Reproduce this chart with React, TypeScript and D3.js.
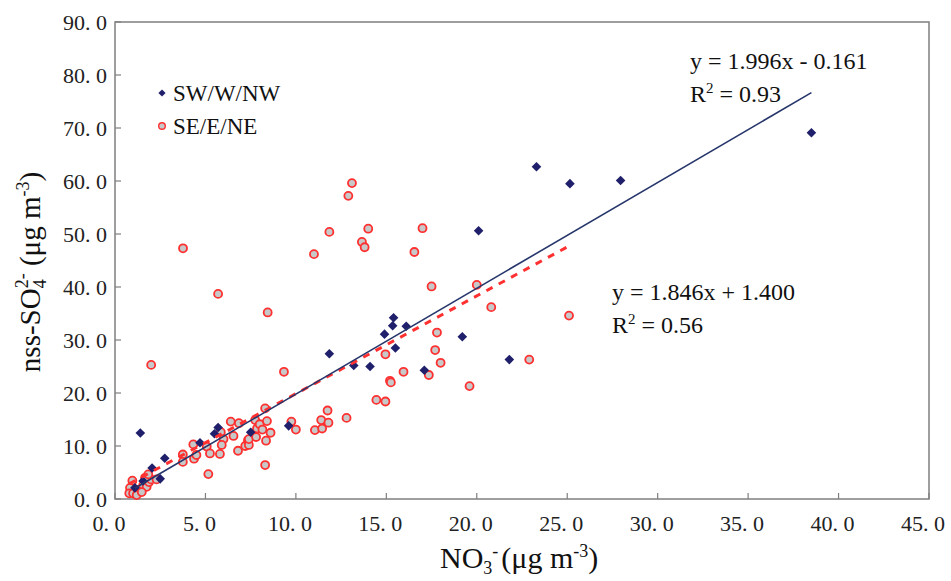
import * as d3 from "d3";

// SW/W/NW wind sector samples [NO3-, nss-SO4 2-]
const swPoints: [number, number][] = [
  [1.1, 2.1], [1.55, 3.4], [1.4, 12.45], [2.05, 5.85], [2.5, 3.8], [2.75, 7.7],
  [4.7, 10.6], [5.5, 12.3], [5.7, 13.5], [7.5, 12.6], [9.6, 13.8], [11.85, 27.4],
  [13.2, 25.2], [14.1, 25.0], [14.9, 31.1], [15.35, 32.7], [15.4, 34.2], [15.5, 28.5],
  [16.1, 32.6], [17.1, 24.3], [19.2, 30.6], [20.1, 50.6], [21.8, 26.3], [23.3, 62.7],
  [25.15, 59.5], [27.95, 60.1], [38.5, 69.1],
];

// SE/E/NE wind sector samples
const sePoints: [number, number][] = [
  [0.96, 3.45], [0.83, 2.1], [0.79, 1.07], [1.0, 1.07], [1.25, 1.7], [1.48, 2.0],
  [1.56, 2.6], [1.75, 2.3], [1.88, 3.2], [1.99, 3.7], [1.66, 4.0], [1.84, 4.65],
  [1.2, 0.75], [1.48, 1.3], [2.3, 3.7],
  [3.75, 8.4], [3.75, 7.0], [4.33, 10.3], [4.37, 7.6], [4.5, 8.3], [5.16, 4.7],
  [5.07, 9.9], [5.25, 8.6], [5.85, 12.6], [6.0, 11.3], [5.9, 10.2], [5.8, 8.5],
  [6.4, 14.6], [6.55, 11.9], [6.8, 9.1], [6.85, 14.3], [7.2, 10.0], [7.35, 11.1],
  [7.4, 10.2], [7.4, 11.3], [7.75, 14.9], [7.85, 13.3], [8.0, 14.1], [8.15, 13.1],
  [8.3, 17.1], [8.4, 14.7], [8.6, 12.5], [7.8, 11.7], [8.35, 11.0], [8.3, 6.4],
  [9.75, 14.6], [10.0, 13.1], [11.05, 13.0], [11.45, 13.3], [11.4, 14.9], [11.8, 14.4],
  [11.75, 16.7], [12.8, 15.3], [14.45, 18.7], [14.95, 18.4], [15.2, 22.3], [15.25, 22.0],
  [9.34, 24.0], [2.0, 25.3], [3.76, 47.3], [5.7, 38.7], [8.44, 35.2], [11.0, 46.2],
  [11.85, 50.4], [12.9, 57.2], [13.1, 59.6], [13.65, 48.5], [13.8, 47.5], [14.0, 51.0],
  [14.95, 27.3], [15.95, 24.0], [16.55, 46.6], [17.0, 51.1], [17.35, 23.4], [17.5, 40.1],
  [17.7, 28.1], [17.8, 31.4], [18.0, 25.7], [19.6, 21.3], [20.0, 40.4], [20.8, 36.2],
  [22.9, 26.3], [25.1, 34.6],
];

const xTicks = [0, 5, 10, 15, 20, 25, 30, 35, 40, 45];
const yTicks = [0, 10, 20, 30, 40, 50, 60, 70, 80, 90];

// fitted lines: slope, intercept, r2
const swFit = [1.996, -0.161, 0.93];
const seFit = [1.846, 1.4, 0.56];

const W = 951;
const H = 581;
const plot = { left: 115, right: 929, top: 22, bottom: 499 };

const NAVY = "#1f1f6b";
const RED = "#ff3030";
const GREY_FILL = "#c8c8c8";
const AXIS = "#7f7f7f";
const SERIF = "'Liberation Serif', 'DejaVu Serif', serif";

const tickFmt = (d: number) => d3.format(".1f")(d).replace(".", ". ");
const diamond = (r: number) => `M0,${-r}L${r},0L0,${r}L${-r},0Z`;

const eqText = (fit: number[]) =>
  `y = ${fit[0].toFixed(3)}x ${fit[1] < 0 ? "-" : "+"} ${Math.abs(fit[1]).toFixed(3)}`;

export default function App() {
  const x = d3.scaleLinear().domain([0, 45]).range([plot.left, plot.right]);
  const y = d3.scaleLinear().domain([0, 90]).range([plot.bottom, plot.top]);

  const fitLine = (fit: number[], pts: [number, number][]) => {
    const [x0, x1] = d3.extent(pts, (d) => d[0]) as [number, number];
    return d3
      .line<number>()
      .x((d) => x(d))
      .y((d) => y(fit[0] * d + fit[1]))([x0, x1]);
  };

  return (
    <svg
      width={W}
      height={H}
      style={{ position: "absolute", left: 0, top: 0, background: "#fff", fontFamily: SERIF }}
    >
      {/* frame */}
      <rect
        x={plot.left}
        y={plot.top}
        width={plot.right - plot.left}
        height={plot.bottom - plot.top}
        fill="none"
        stroke={AXIS}
        strokeWidth={1.5}
      />
      {/* x ticks */}
      <g>
        {xTicks.map((t) => (
          <g key={t}>
            <line x1={x(t)} x2={x(t)} y1={plot.bottom} y2={plot.bottom - 6} stroke={AXIS} strokeWidth={1.2} />
            <text x={x(t) - 6} y={531} textAnchor="middle" fontSize={22} fill="#222">
              {tickFmt(t)}
            </text>
          </g>
        ))}
      </g>
      {/* y ticks */}
      <g>
        {yTicks.map((t) => (
          <g key={t}>
            <line x1={plot.left} x2={plot.left + 6} y1={y(t)} y2={y(t)} stroke={AXIS} strokeWidth={1.2} />
            <text x={107} y={y(t)} dy="0.35em" textAnchor="end" fontSize={22} fill="#222">
              {tickFmt(t)}
            </text>
          </g>
        ))}
      </g>

      {/* points */}
      <g>
        {sePoints.map((d, i) => (
          <circle key={i} cx={x(d[0])} cy={y(d[1])} r={4} fill={GREY_FILL} stroke={RED} strokeWidth={1.8} />
        ))}
      </g>
      <g>
        {swPoints.map((d, i) => (
          <path key={i} d={diamond(4.8)} transform={`translate(${x(d[0])},${y(d[1])})`} fill={NAVY} />
        ))}
      </g>

      {/* regression lines */}
      <path d={fitLine(seFit, sePoints) || ""} fill="none" stroke={RED} strokeWidth={3} strokeDasharray="7,7" />
      <path d={fitLine(swFit, swPoints) || ""} fill="none" stroke="#26366b" strokeWidth={1.6} />

      {/* legend */}
      <g fontSize={23} fill="#111">
        <path d={diamond(3.6)} transform="translate(162,93)" fill={NAVY} />
        <text x={173} y={93} dy="0.35em">SW/W/NW</text>
        <circle cx={162} cy={126} r={3.3} fill={GREY_FILL} stroke={RED} strokeWidth={1.4} />
        <text x={173} y={126} dy="0.35em">SE/E/NE</text>
      </g>

      {/* equations */}
      <g fontSize={24} fill="#111">
        <text x={690} y={69}>{eqText(swFit)}</text>
        <text x={690} y={102}>
          R<tspan fontSize={15} dy={-9}>2</tspan>
          <tspan dy={9}> = {swFit[2].toFixed(2)}</tspan>
        </text>
        <text x={612} y={300}>{eqText(seFit)}</text>
        <text x={612} y={333}>
          R<tspan fontSize={15} dy={-9}>2</tspan>
          <tspan dy={9}> = {seFit[2].toFixed(2)}</tspan>
        </text>
      </g>

      {/* axis titles */}
      <text x={440} y={568} fontSize={30} fill="#111">
        NO<tspan fontSize={18} dy={6}>3</tspan>
        <tspan fontSize={18} dy={-17}>-</tspan>
        <tspan dx={3} dy={11}>(μg m</tspan>
        <tspan fontSize={18} dy={-11}>-3</tspan>
        <tspan dy={11}>)</tspan>
      </text>
      <text transform="translate(40,272) rotate(-90)" textAnchor="middle" fontSize={29} fill="#111">
        nss-SO<tspan fontSize={18} dy={6}>4</tspan>
        <tspan fontSize={18} dx={-9} dy={-18}>2-</tspan>
        <tspan dy={12}> (μg m</tspan>
        <tspan fontSize={18} dy={-11}>-3</tspan>
        <tspan dy={11}>)</tspan>
      </text>
    </svg>
  );
}
